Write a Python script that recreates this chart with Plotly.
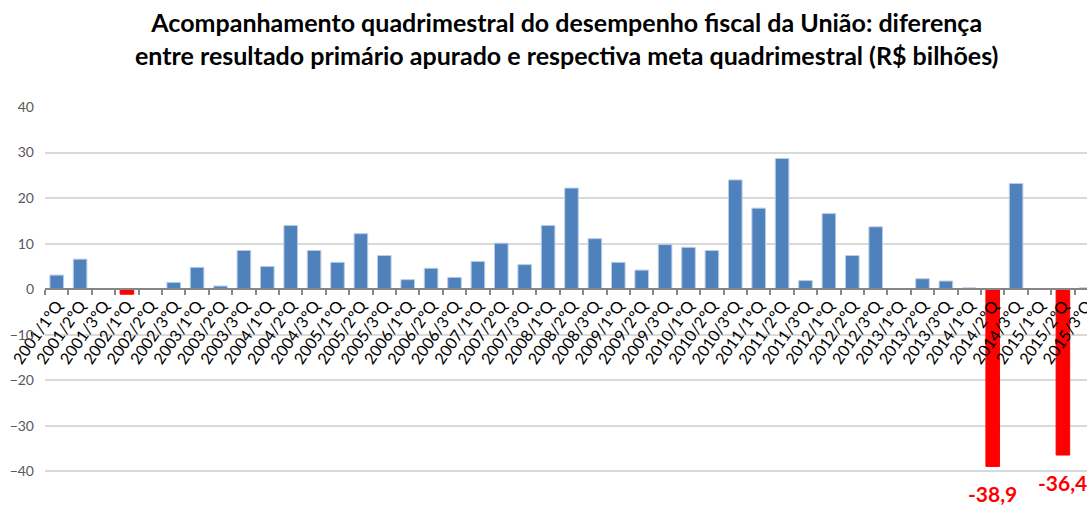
import plotly.graph_objects as go

categories = [f"{y}/{q}ºQ" for y in range(2001, 2016) for q in (1, 2, 3)]
values = [3.1, 6.6, 0.0,
          -1.1, 0.1, 1.5,
          4.8, 0.7, 8.5,
          5.0, 14.0, 8.5,
          5.9, 12.2, 7.4,
          2.1, 4.6, 2.6,
          6.1, 10.1, 5.4,
          14.0, 22.2, 11.1,
          5.9, 4.2, 9.8,
          9.2, 8.5, 24.0,
          17.8, 28.7, 1.9,
          16.6, 7.4, 13.7,
          0.0, 2.3, 1.8,
          0.3, -38.9, 23.2,
          0.0, -36.4, 0.3]
labelled = ["2014/2ºQ", "2015/2ºQ"]
y_ticks = [40, 30, 20, 10, 0, -10, -20, -30, -40, -50]
title_lines = ["Acompanhamento quadrimestral do desempenho fiscal da União: diferença",
               "entre resultado primário apurado e respectiva meta quadrimestral (R$ bilhões)"]

BLUE = "#4F81BD"
RED = "#FF0000"
colors = [RED if v < 0 else BLUE for v in values]
outline = ["#FF0000" if v < 0 else "#B9CDE5" for v in values]
FONT = "Lato, Carlito, sans-serif"

W, H = 1087, 519
MT, MB, ML, MR = 107, 2, 45, 0
plot_h = H - MT - MB

fig = go.Figure()
fig.add_trace(go.Bar(
    x=categories, y=values,
    marker=dict(color=colors, line=dict(color=outline, width=1)),
    width=0.58,
    hoverinfo="x+y",
))

for c in labelled:
    v = values[categories.index(c)]
    fig.add_annotation(
        x=c, y=v, xref="x", yref="y",
        text=f"{v:.1f}".replace(".", ","),
        showarrow=False, yanchor="top", yshift=-13,
        font=dict(family=FONT, size=21, color=RED, weight="bold"),
    )

# title as annotation (top of text ~5px below page top)
fig.add_annotation(
    x=0.5, xref="paper", xanchor="center",
    y=1 + (MT - 5) / plot_h, yref="paper", yanchor="top",
    text="<br>".join(title_lines), showarrow=False, align="center",
    font=dict(family=FONT, size=25, color="#000000", weight="bold"),
)

ymin, ymax = -50, 40
fig.update_layout(
    width=W, height=H,
    margin=dict(l=ML, r=MR, t=MT, b=MB, autoexpand=False),
    paper_bgcolor="white", plot_bgcolor="white",
    showlegend=False,
    bargap=0.42,
)
fig.update_yaxes(
    range=[ymin, ymax], tickvals=y_ticks, automargin=False,
    showgrid=True, gridcolor="#D9D9D9", gridwidth=1.5,
    zeroline=False, showline=False,
    tickfont=dict(family=FONT, size=14, color="#595959"),
    ticklabelstandoff=10,
)
fig.update_xaxes(
    type="category", range=[-0.5, 44.03], automargin=False,
    anchor="free", position=(0 - ymin) / (ymax - ymin),
    showline=True, linecolor="#868686", linewidth=1.5,
    ticks="outside", tickson="boundaries", ticklen=5, tickcolor="#868686", tickwidth=1.5,
    tickangle=-55, showgrid=False,
    tickfont=dict(family=FONT, size=16, color="#000000"),
)

fig.write_html("out.html", config={"displayModeBar": False},
               post_script="document.body.style.margin='0';document.body.style.overflow='hidden';")
